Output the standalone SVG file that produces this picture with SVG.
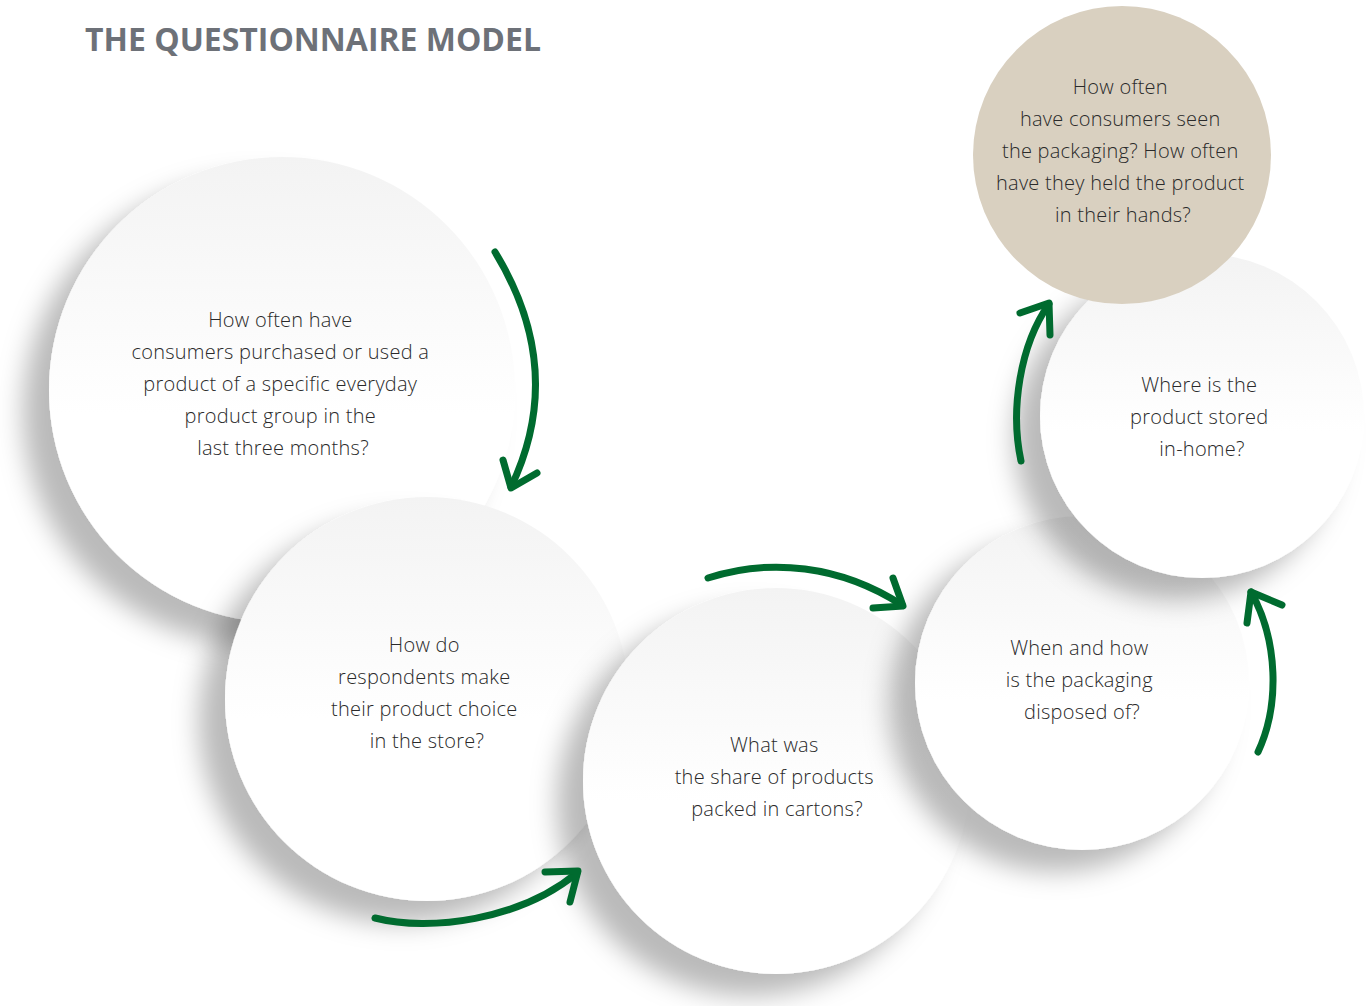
<svg xmlns="http://www.w3.org/2000/svg" width="1366" height="1006" viewBox="0 0 1366 1006">
  <defs>
    <linearGradient id="disc" x1="0" y1="0" x2="0" y2="1">
      <stop offset="0" stop-color="#f3f3f3"/>
      <stop offset="0.55" stop-color="#ffffff"/>
      <stop offset="1" stop-color="#ffffff"/>
    </linearGradient>
    <filter id="lift" x="-30%" y="-30%" width="160%" height="160%">
      <feDropShadow dx="-26" dy="22" stdDeviation="13" flood-color="#000" flood-opacity="0.27"/>
    </filter>
    <style>
      .disc { fill: url(#disc); filter: url(#lift); }
      .accent { fill: #d9d0c0; }
      .q { font-family: "Open Sans", "Liberation Sans", sans-serif; font-size: 20px; font-weight: 300; letter-spacing: 0.25px; fill: #2a2a2a; text-anchor: middle; }
      .title { font-family: "Open Sans", "Liberation Sans", sans-serif; font-size: 32px; font-weight: 700; fill: #6d7178; }
      .flow { fill: none; stroke: #006b2f; stroke-width: 7; stroke-linecap: round; stroke-linejoin: round; }
    </style>
  </defs>

  <rect width="1366" height="1006" fill="#ffffff"/>

  <text class="title" x="85" y="51" textLength="456" lengthAdjust="spacingAndGlyphs">THE QUESTIONNAIRE MODEL</text>

  <g id="purchase">
    <circle class="disc" cx="282" cy="390" r="233"/>
    <text class="q">
      <tspan x="283" y="327">How often have</tspan>
      <tspan x="283" y="359">consumers purchased or used a</tspan>
      <tspan x="283" y="391">product of a specific everyday</tspan>
      <tspan x="283" y="423">product group in the</tspan>
      <tspan x="283" y="455">last three months?</tspan>
    </text>
  </g>

  <g id="choice">
    <circle class="disc" cx="427" cy="699" r="202"/>
    <text class="q">
      <tspan x="427" y="652">How do</tspan>
      <tspan x="427" y="684">respondents make</tspan>
      <tspan x="427" y="716">their product choice</tspan>
      <tspan x="427" y="748">in the store?</tspan>
    </text>
  </g>

  <g id="cartons">
    <circle class="disc" cx="776" cy="781" r="193"/>
    <text class="q">
      <tspan x="777" y="752">What was</tspan>
      <tspan x="777" y="784">the share of products</tspan>
      <tspan x="777" y="816">packed in cartons?</tspan>
    </text>
  </g>

  <g id="disposal">
    <circle class="disc" cx="1082" cy="683" r="167"/>
    <text class="q">
      <tspan x="1082" y="655">When and how</tspan>
      <tspan x="1082" y="687">is the packaging</tspan>
      <tspan x="1082" y="719">disposed of?</tspan>
    </text>
  </g>

  <g id="storage">
    <circle class="disc" cx="1202" cy="416" r="162"/>
    <text class="q">
      <tspan x="1202" y="392">Where is the</tspan>
      <tspan x="1202" y="424">product stored</tspan>
      <tspan x="1202" y="456">in-home?</tspan>
    </text>
  </g>

  <g id="contact">
    <circle class="accent" cx="1122" cy="155" r="149"/>
    <text class="q">
      <tspan x="1123" y="94">How often</tspan>
      <tspan x="1123" y="126">have consumers seen</tspan>
      <tspan x="1123" y="158">the packaging? How often</tspan>
      <tspan x="1123" y="190">have they held the product</tspan>
      <tspan x="1123" y="222">in their hands?</tspan>
    </text>
  </g>

  <g id="connectors">
    <path class="flow" d="M495,252 Q567,370 511,487"/>
    <path class="flow" d="M503,460 L511,488 L537,473"/>

    <path class="flow" d="M375,918 C430,932 520,920 577,873"/>
    <path class="flow" d="M545,872 L578,871 L570,902"/>

    <path class="flow" d="M708,578 C770,558 840,565 902,605"/>
    <path class="flow" d="M893,578 L903,606 L873,608"/>

    <path class="flow" d="M1258,752 C1280,705 1278,640 1251,592"/>
    <path class="flow" d="M1247,623 L1251,592 L1282,605"/>

    <path class="flow" d="M1021,461 C1010,410 1020,345 1049,304"/>
    <path class="flow" d="M1020,313 L1049,303 L1050,335"/>
  </g>
</svg>
